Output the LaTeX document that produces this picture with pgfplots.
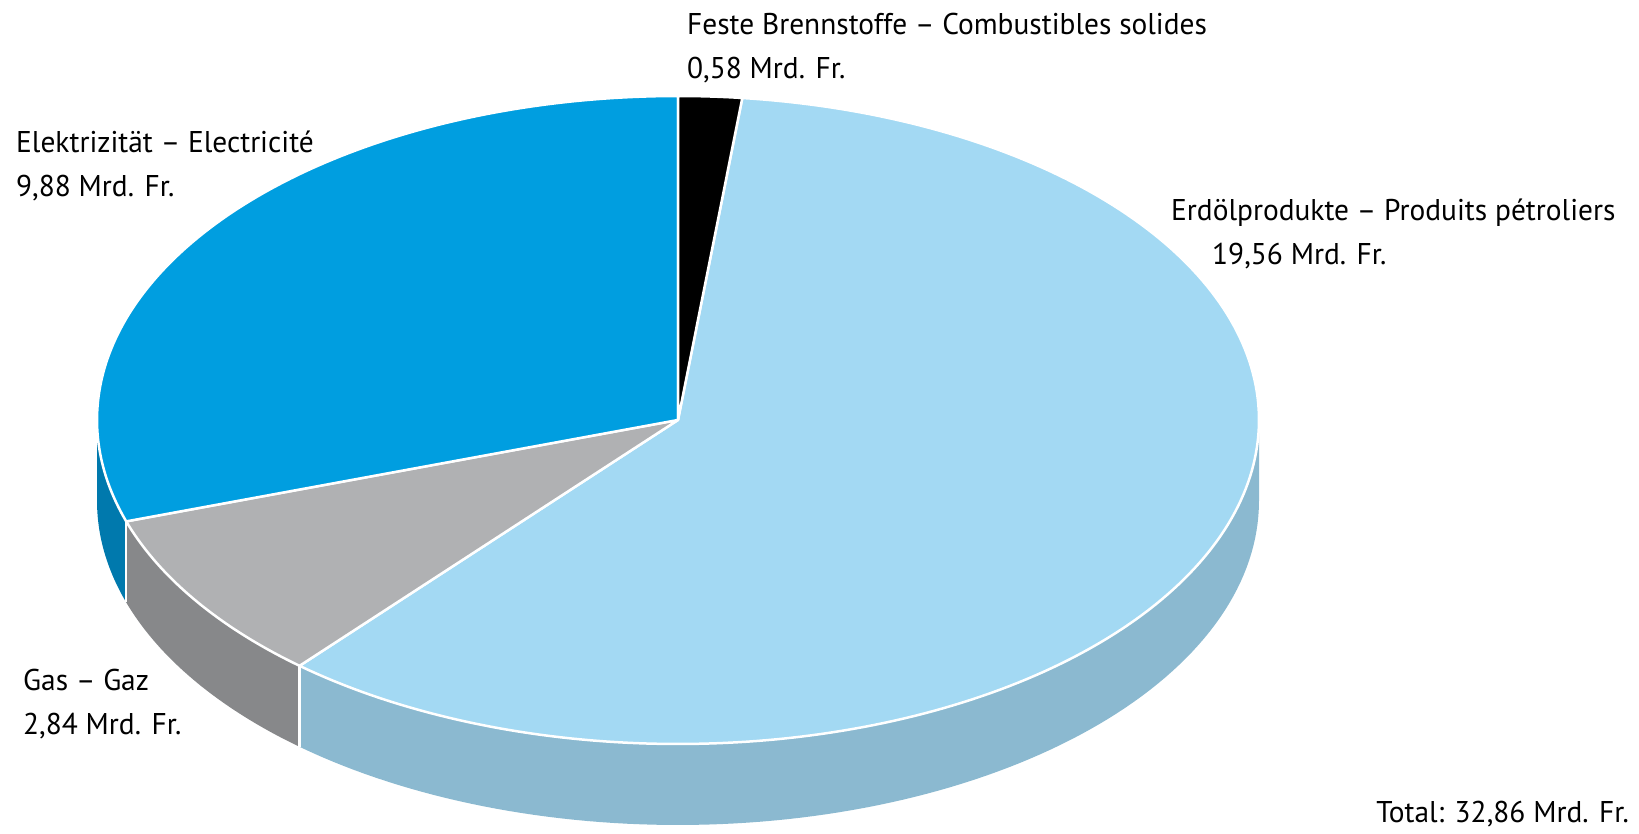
\documentclass[border=0pt]{standalone}
\usepackage{pgfplots}
\pgfplotsset{compat=1.18}
\usepgfplotslibrary{fillbetween}
\usepackage{fontspec}
\setmainfont{PT Sans}[FakeStretch=0.98]
\definecolor{elTop}{RGB}{0,158,224}
\definecolor{elSide}{RGB}{0,121,173}
\definecolor{erTop}{RGB}{163,217,243}
\definecolor{erSide}{RGB}{139,185,208}
\definecolor{gaTop}{RGB}{176,177,179}
\definecolor{gaSide}{RGB}{135,136,138}
\definecolor{feTop}{RGB}{0,0,0}
% data (Mrd. Fr.)
\def\vFeste{0.58}
\def\vErdoel{19.56}
\def\vGas{2.84}
\def\vElektro{9.88}
\pgfmathsetmacro\tot{\vFeste+\vErdoel+\vGas+\vElektro}
\pgfmathsetmacro\aA{90}
\pgfmathsetmacro\aB{\aA-360*\vFeste/\tot}
\pgfmathsetmacro\aC{\aB-360*\vErdoel/\tot}
\pgfmathsetmacro\aD{\aC-360*\vGas/\tot}
\pgfmathsetmacro\aE{\aD-360*\vElektro/\tot}
\def\cx{678}\def\cy{420}\def\rx{581}\def\ry{324}\def\dep{81}
\newcommand\lf{\fontsize{30bp}{36bp}\selectfont}
\tikzset{lbl/.style={inner sep=0pt, font=\lf}}
\begin{document}
\begin{tikzpicture}
\begin{axis}[
  scale only axis, width=1639bp, height=834bp,
  xmin=0, xmax=1639, ymin=0, ymax=834, y dir=reverse,
  hide axis, clip=false, enlargelimits=false,
]
\path (rel axis cs:0,0) rectangle (rel axis cs:1,1);
% ---- side walls ----
\addplot[draw=none, name path=erT, domain=\aC:0, samples=100] ({\cx+\rx*cos(x)}, {\cy-\ry*sin(x)});
\addplot[draw=none, name path=erB, domain=\aC:0, samples=100] ({\cx+\rx*cos(x)}, {\cy+\dep-\ry*sin(x)});
\addplot[fill=erSide, draw=none] fill between[of=erT and erB];
\addplot[draw=none, name path=gaT, domain=\aD:\aC, samples=40] ({\cx+\rx*cos(x)}, {\cy-\ry*sin(x)});
\addplot[draw=none, name path=gaB, domain=\aD:\aC, samples=40] ({\cx+\rx*cos(x)}, {\cy+\dep-\ry*sin(x)});
\addplot[fill=gaSide, draw=none] fill between[of=gaT and gaB];
\addplot[draw=none, name path=elT, domain=-180:\aD, samples=30] ({\cx+\rx*cos(x)}, {\cy-\ry*sin(x)});
\addplot[draw=none, name path=elB, domain=-180:\aD, samples=30] ({\cx+\rx*cos(x)}, {\cy+\dep-\ry*sin(x)});
\addplot[fill=elSide, draw=none] fill between[of=elT and elB];
\addplot[white, line width=2.5bp, domain=0:1, samples=2] ({\cx+\rx*cos(\aC)}, {\cy-\ry*sin(\aC)+\dep*x});
\addplot[white, line width=2.5bp, domain=0:1, samples=2] ({\cx+\rx*cos(\aD)}, {\cy-\ry*sin(\aD)+\dep*x});
% ---- top face ----
\addplot[fill=erTop, draw=white, line width=2.5bp, line join=round, domain=\aC:\aB, samples=200] ({\cx+\rx*cos(x)}, {\cy-\ry*sin(x)}) -- (axis cs:\cx,\cy) -- cycle;
\addplot[fill=gaTop, draw=white, line width=2.5bp, line join=round, domain=\aD:\aC, samples=40] ({\cx+\rx*cos(x)}, {\cy-\ry*sin(x)}) -- (axis cs:\cx,\cy) -- cycle;
\addplot[fill=elTop, draw=white, line width=2.5bp, line join=round, domain=\aE:\aD, samples=120] ({\cx+\rx*cos(x)}, {\cy-\ry*sin(x)}) -- (axis cs:\cx,\cy) -- cycle;
\addplot[fill=feTop, draw=white, line width=2.5bp, line join=round, domain=\aB:\aA, samples=12] ({\cx+\rx*cos(x)}, {\cy-\ry*sin(x)}) -- (axis cs:\cx,\cy) -- cycle;
% ---- labels ----
\node[lbl, anchor=base west] at (axis cs:687,35) {\lf Feste Brennstoffe – Combustibles solides};
\node[lbl, anchor=base west] at (axis cs:687,79) {\lf 0,58 Mrd. Fr.};
\node[lbl, anchor=base west] at (axis cs:16,153) {\lf Elektrizität – Electricité};
\node[lbl, anchor=base west] at (axis cs:16,197) {\lf 9,88 Mrd. Fr.};
\node[lbl, anchor=base west] at (axis cs:1171,221) {\lf Erdölprodukte – Produits pétroliers};
\node[lbl, anchor=base west] at (axis cs:1212,265) {\lf 19,56 Mrd. Fr.};
\node[lbl, anchor=base west] at (axis cs:23,691) {\lf Gas – Gaz};
\node[lbl, anchor=base west] at (axis cs:23,735) {\lf 2,84 Mrd. Fr.};
\node[lbl, anchor=base east] at (axis cs:1629,823) {\lf Total: 32,86 Mrd. Fr.};
\end{axis}
\end{tikzpicture}
\end{document}
